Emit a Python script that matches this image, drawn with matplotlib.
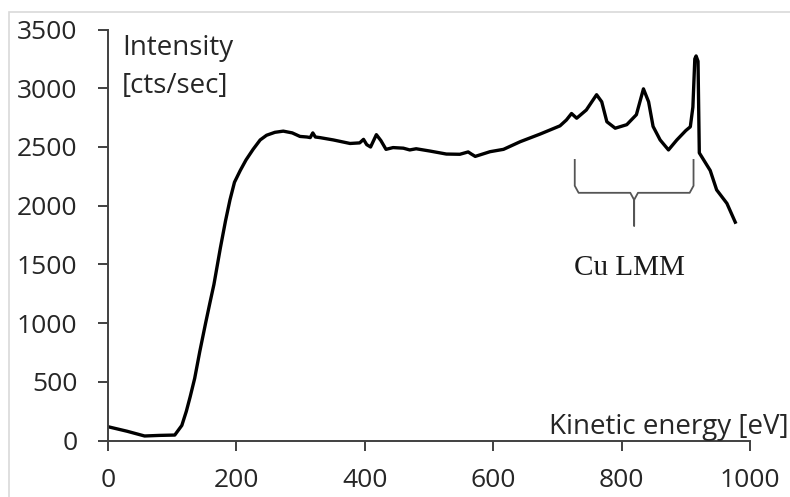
import matplotlib.pyplot as plt
from matplotlib.patches import Rectangle

# AES spectrum
energy = [0, 30, 57, 80, 104, 115, 122, 128, 135, 143, 152, 159, 165, 175, 183, 190,
          197, 206, 215, 226, 237, 247, 260, 273, 287, 299, 310, 315, 319, 323, 330,
          351, 377, 392, 398, 403, 409, 418, 425, 433, 444, 460, 470, 480, 502, 527,
          548, 561, 566, 572, 595, 616, 642, 673, 704, 714, 722, 730, 745, 761, 769,
          777, 790, 808, 823, 834, 842, 849, 860, 873, 886, 900, 907, 911, 914, 916,
          919, 921, 938, 948, 964, 977]
intensity = [119, 80, 40, 45, 48, 130, 250, 374, 530, 760, 1000, 1180, 1330, 1640, 1870, 2050,
             2200, 2300, 2390, 2480, 2560, 2600, 2625, 2635, 2620, 2590, 2585, 2580, 2620, 2585, 2580,
             2560, 2530, 2535, 2565, 2520, 2500, 2605, 2555, 2480, 2495, 2490, 2475, 2485, 2465, 2440,
             2438, 2458, 2440, 2420, 2460, 2480, 2545, 2610, 2680, 2730, 2785, 2745, 2815, 2945, 2885,
             2715, 2660, 2690, 2775, 2995, 2885, 2675, 2560, 2475, 2560, 2640, 2672, 2840, 3250, 3275,
             3230, 2450, 2300, 2135, 2020, 1860]

xticks = [0, 200, 400, 600, 800, 1000]
yticks = [0, 500, 1000, 1500, 2000, 2500, 3000, 3500]

# Cu LMM bracket range
brace_left, brace_right = 727, 912
brace_top, brace_mid, brace_tip = 2390, 2110, 1830

fig = plt.figure(figsize=(7.9, 4.97), dpi=100)
fig.patches.append(Rectangle((0.012, -0.5), 2, 0.9759 + 0.5, transform=fig.transFigure,
                             fill=False, edgecolor='#d9d9d9', linewidth=1.2))
ax = fig.add_axes([0.1367, 0.1133, 0.8127, 0.8273])

ax.plot(energy, intensity, color='black', linewidth=2.4, solid_joinstyle='round')

# curly bracket
c = (brace_left + brace_right) / 2
r = 6
bx = [brace_left, brace_left, brace_left + r, c - r, c, c, c, c + r, brace_right - r, brace_right, brace_right]
by = [brace_top, brace_mid + 60, brace_mid, brace_mid, brace_mid - 60, brace_tip, brace_mid - 60,
      brace_mid, brace_mid, brace_mid + 60, brace_top]
ax.plot(bx, by, color='#555555', linewidth=1.3)
ax.text(c - 7, 1470, 'Cu LMM', family='Liberation Serif', fontsize=21, color='#1a1a1a',
        ha='center', va='center')

ax.set_xlim(0, 1000)
ax.set_ylim(0, 3500)
ax.set_xticks(xticks)
ax.set_yticks(yticks)
for s in ['top', 'right']:
    ax.spines[s].set_visible(False)
for s in ['left', 'bottom']:
    ax.spines[s].set_color('#404040')
    ax.spines[s].set_linewidth(1.4)
ax.tick_params(axis='both', direction='out', length=7, width=1.4, color='#404040',
               labelsize=19, labelcolor='#262626')
ax.tick_params(axis='y', pad=15)
ax.tick_params(axis='x', pad=13)
for lab in ax.get_xticklabels() + ax.get_yticklabels():
    lab.set_family('Open Sans')

ax.text(0.022, 0.988, 'Intensity\n[cts/sec]', transform=ax.transAxes, family='Open Sans',
        fontsize=20, color='#262626', va='top', ha='left', linespacing=1.45)
ax.text(1.06, 60, 'Kinetic energy [eV]', transform=ax.get_yaxis_transform(), family='Open Sans',
        fontsize=20, color='#262626', va='baseline', ha='right')

fig.savefig('out.png', dpi=100)
